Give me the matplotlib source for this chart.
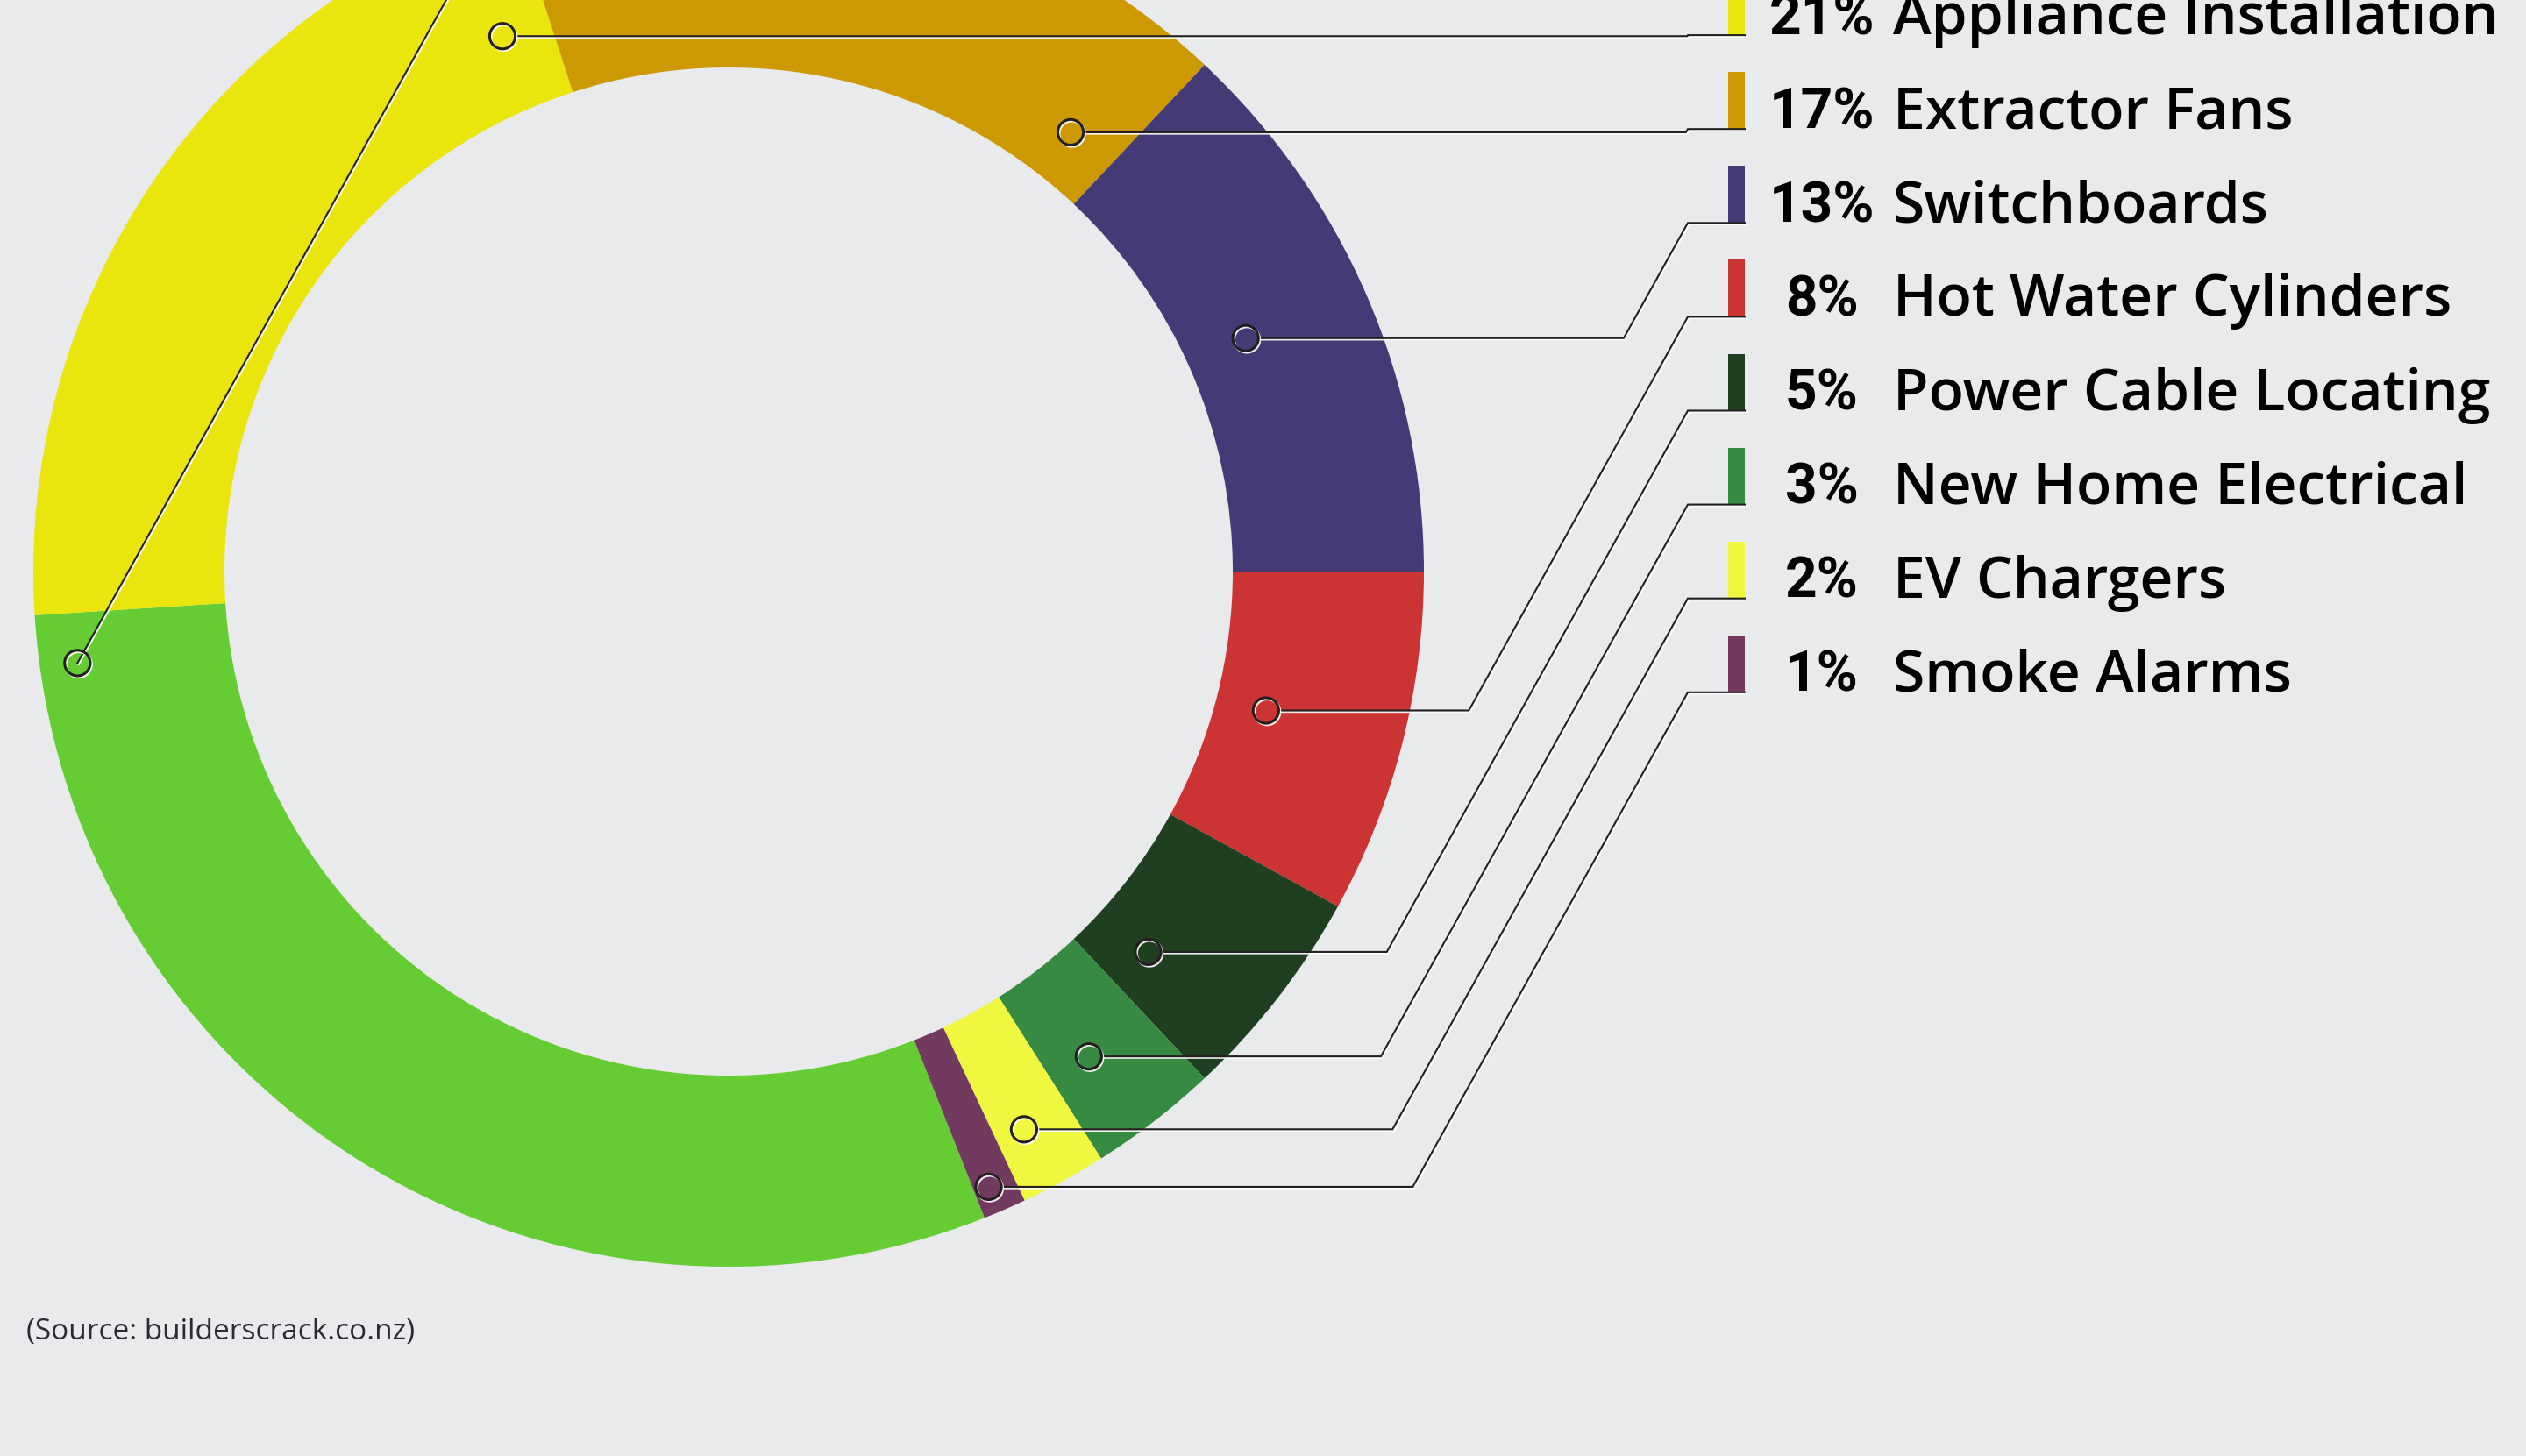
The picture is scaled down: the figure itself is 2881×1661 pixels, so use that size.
import matplotlib.pyplot as plt
import matplotlib.patheffects as pe
from matplotlib.patches import Rectangle
import numpy as np

# ---- data (the top row of the legend is cropped out of the picture) ----
labels = ['', 'Appliance Installation', 'Extractor Fans', 'Switchboards',
          'Hot Water Cylinders', 'Power Cable Locating', 'New Home Electrical',
          'EV Chargers', 'Smoke Alarms']
shares = [30, 21, 17, 13, 8, 5, 3, 2, 1]
colors = ['#66CC33', '#EAE60D', '#CC9900', '#443A75', '#CC3333',
          '#1F3F20', '#378A42', '#EFF83F', '#723A5F']

# callout dots on the ring: angle (deg) and distance from centre (px)
dot_angle = [188.0, 112.9, 52.1, 24.3, -14.5, -42.2, -53.4, -62.1, -67.1]
dot_radius = [750, 663, 635, 647, 633, 646, 689, 720, 762]

# ---- layout (pixel units, y measured from the top) ----
W, H = 2881, 1661
BG = '#E9EAEC'
INK = '#231F20'
CX, CY = 831, 652
R_OUT, RING = 793, 218
ROW0, ROW_STEP = -67, 107.1
KNEE_X, STUB_END = 1925, 1990
SLOPE = 0.556         # dx/dy of the slanted leader segments
PCT_X, LABEL_X = 2078, 2159


def Y(y):
    return H - np.asarray(y)


fig = plt.figure(figsize=(W / 100, H / 100), dpi=100, facecolor=BG)
ax = fig.add_axes([0, 0, 1, 1])
ax.set_facecolor(BG)

ax.pie(shares, colors=colors, startangle=291.6, counterclock=False,
       center=(CX, H - CY), radius=R_OUT,
       wedgeprops=dict(width=RING, linewidth=0))
ax.set_xlim(0, W)
ax.set_ylim(0, H)
ax.set_aspect('auto')
ax.axis('off')

glow = [pe.SimpleLineShadow(offset=(1, -1.2), shadow_color='white', alpha=0.9),
        pe.Normal()]

for k, (val, lab, col) in enumerate(zip(shares, labels, colors)):
    a = np.radians(dot_angle[k])
    mx = CX + dot_radius[k] * np.cos(a)
    my = CY - dot_radius[k] * np.sin(a)
    sy = ROW0 + ROW_STEP * k

    # leader: dot -> horizontal -> slant -> stub under the swatch
    if k == 0:
        xs = [mx, mx + SLOPE * (my - sy), STUB_END]
        ys = [my, sy, sy]
    else:
        kx = KNEE_X - SLOPE * (my - sy)
        xs = [mx + 15, kx, KNEE_X, STUB_END]
        ys = [my, my, sy, sy]
    ax.plot(xs, Y(ys), color=INK, lw=1.5, solid_joinstyle='miter',
            path_effects=glow, zorder=3)
    ax.plot(mx, Y(my), 'o', ms=21, mfc='none', mec=INK, mew=2.2,
            path_effects=glow, zorder=4)

    # legend swatch + texts (the 21% row is cut by the top edge, as in the source)
    ax.add_patch(Rectangle((1971, Y(sy)), 19, 65, color=col, lw=0, zorder=2))
    if lab:
        ax.text(PCT_X, Y(sy - 1), f'{val}%', ha='center', va='baseline',
                fontsize=46, fontweight='bold', family='Roboto', color='black')
        ax.text(LABEL_X, Y(sy - 1), lab, ha='left', va='baseline',
                fontsize=47.5, fontweight='semibold', family='Open Sans', color='black')

ax.text(30, Y(1528), '(Source: builderscrack.co.nz)', ha='left', va='baseline',
        fontsize=24, family='Open Sans', color='#2B2B30')

fig.savefig('out.png', dpi=100, facecolor=BG)
